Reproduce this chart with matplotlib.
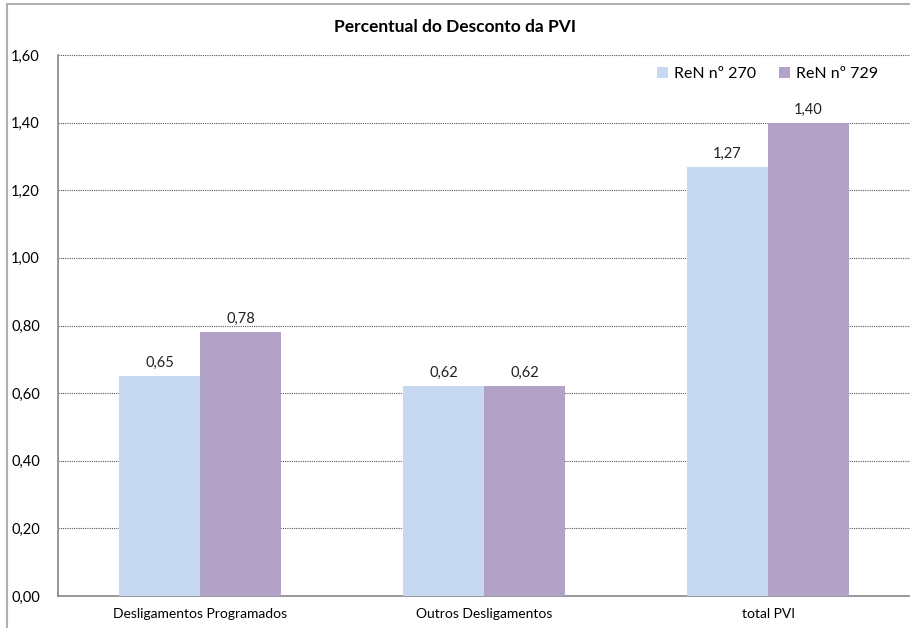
import matplotlib.pyplot as plt
import numpy as np
from matplotlib.patches import Rectangle

plt.rcParams["font.family"] = ["Lato", "DejaVu Sans"]

categories = ["Desligamentos Programados", "Outros Desligamentos", "total PVI"]
series_names = ["ReN nº 270", "ReN nº 729"]
ren_270 = [0.65, 0.62, 1.27]
ren_729 = [0.78, 0.62, 1.40]
colors = ["#C6D9F1", "#B3A2C7"]

fig = plt.figure(figsize=(9.1, 6.28), dpi=100)
ax = fig.add_axes([58 / 910, 1 - 596 / 628, 852 / 910, 541 / 628])

x = np.arange(len(categories))
width = 0.285
for offset, vals, name, col in [(-width / 2, ren_270, series_names[0], colors[0]),
                                (width / 2, ren_729, series_names[1], colors[1])]:
    bars = ax.bar(x + offset, vals, width, color=col, label=name, zorder=3)
    for b, v in zip(bars, vals):
        ax.text(b.get_x() + b.get_width() / 2, v + 0.018, ("%.2f" % v).replace(".", ","),
                ha="center", va="bottom", fontsize=10.5, color="#222222", zorder=4)

ax.set_xlim(-0.5, 2.5)
ax.set_ylim(0, 1.6)
yt = np.arange(0, 1.61, 0.2)
ax.set_yticks(yt)
ax.set_yticklabels([("%.2f" % t).replace(".", ",") for t in yt], fontsize=10.5)
ax.set_xticks(x)
ax.set_xticklabels(categories, fontsize=10)
ax.tick_params(axis="both", length=0, pad=9)
ax.tick_params(axis="y", pad=13)

ax.grid(axis="y", color="#555555", linestyle=(0, (1, 1)), linewidth=0.8, zorder=0)
for s in ["top", "right"]:
    ax.spines[s].set_visible(False)
for s in ["left", "bottom"]:
    ax.spines[s].set_color("#868686")
    ax.spines[s].set_linewidth(1.2)

leg = ax.legend(loc="upper right", bbox_to_anchor=(0.98, 1.005), ncol=2, frameon=False,
                fontsize=11.5, handlelength=0.7, handleheight=0.7, handletextpad=0.4,
                columnspacing=1.4)

fig.text(0.5, 1 - 27 / 628, "Percentual do Desconto da PVI", ha="center", va="center",
         fontsize=12.5, fontweight="bold")

# chart area border (left and top edges)
fig.add_artist(Rectangle((7 / 910, -0.05), 1.2, 1 - 4 / 628 + 0.05, transform=fig.transFigure,
                         fill=False, edgecolor="#B0B0B0", linewidth=1.5))

fig.savefig("out.png", dpi=100)
